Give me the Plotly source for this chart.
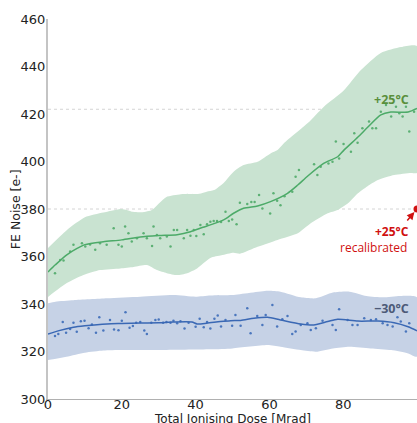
import plotly.graph_objects as go

# ---------------- data ----------------
# +25 C : smoothed mean and band
warm_mean_x = [0, 2, 5, 8, 10, 15, 20, 25, 30, 35, 38.6, 42, 44, 47.6, 50.3, 53, 56.8, 60.3,
               64.9, 67.7, 70.4, 74.7, 78.5, 80.2, 84, 86.7, 90.2, 92.9, 97.6, 100]
warm_mean_y = [353.5, 356.5, 360.6, 363.5, 365.0, 366.2, 367.0, 368.2, 368.8, 369.2, 370.4, 372.3,
               373.3, 375.4, 378.2, 380.3, 381.3, 383.1, 386.6, 390.1, 393.9, 399.2, 402.0, 404.8,
               410.3, 414.5, 419.6, 420.8, 420.8, 422.3]

warm_up_x = [0, 5, 10, 15, 20, 23, 25, 28, 32, 36, 41, 43, 45, 47.6, 50.3, 53, 56.8, 60.3, 62.2,
             64, 70.4, 74.7, 80.2, 84.8, 90.2, 95.7, 100]
warm_up_y = [363.6, 371.0, 376.5, 378.5, 380.0, 378.8, 378.6, 379.5, 385.0, 386.2, 386.4, 387.3,
             388.0, 391.0, 395.7, 398.5, 399.9, 403.4, 404.8, 407.8, 416.2, 423.0, 430.0, 438.5,
             445.7, 448.2, 448.6]

warm_lo_x = [0, 5.1, 9.6, 14.1, 19.6, 23.2, 26.8, 29.5, 32.2, 35, 37.7, 40.4, 44, 47, 50.3, 52,
             56.8, 62.2, 67.7, 71.2, 75.8, 78.5, 81.3, 84, 86.5, 89.4, 93.8, 98.4, 100]
warm_lo_y = [343.0, 348.8, 352.2, 354.3, 355.0, 355.6, 356.4, 354.3, 353.0, 352.2, 353.0, 355.0,
             359.4, 360.5, 361.6, 361.2, 364.1, 367.0, 369.8, 374.0, 378.2, 379.6, 382.4, 386.6,
             389.5, 392.2, 394.3, 395.2, 395.2]

warm_pts_x = [1.9, 3.3, 4.2, 6.0, 6.9, 9.2, 10.1, 11.4, 12.8, 14.1, 15.9, 17.8, 19.1, 20.0, 20.9,
              21.8, 22.7, 24.1, 25.9, 26.8, 28.2, 28.6, 29.5, 30.4, 32.2, 33.2, 34.1, 35.0, 36.8,
              37.7, 38.6, 39.5, 40.2, 41.3, 42.2, 43.1, 44.0, 44.9, 45.8, 46.9, 48.1, 49.0, 49.9,
              51.1, 52.0, 54.0, 55.1, 56.0, 57.2, 58.1, 60.2, 61.1, 62.1, 63.0, 64.1, 66.2, 67.1,
              68.0, 72.1, 73.0, 73.9, 76.0, 77.1, 78.0, 78.9, 80.1, 82.1, 83.0, 83.9, 85.2, 87.0,
              87.9, 88.9, 90.2, 91.6, 93.0, 94.3, 95.2, 96.1, 97.0, 97.9, 99.2]
warm_pts_y = [352.9, 358.5, 358.3, 362.1, 364.9, 365.6, 364.2, 365.1, 362.8, 365.6, 364.9, 371.9,
              364.9, 364.2, 372.6, 369.8, 366.3, 367.7, 369.8, 367.7, 364.4, 372.6, 369.1, 367.7,
              368.4, 364.2, 371.2, 371.2, 367.7, 371.2, 368.7, 371.2, 368.6, 373.3, 369.4, 373.6,
              374.6, 375.0, 374.9, 374.5, 378.8, 374.9, 375.6, 373.6, 382.6, 382.1, 383.0, 383.0,
              385.9, 380.2, 378.1, 386.6, 383.5, 381.6, 385.4, 387.3, 393.6, 396.4, 398.8, 394.3,
              397.8, 399.2, 399.9, 408.4, 401.3, 407.4, 404.1, 411.9, 407.9, 414.0, 416.8, 414.0,
              414.0, 421.0, 423.8, 418.9, 423.1, 420.3, 418.9, 423.1, 412.6, 421.0]

# -30 C : smoothed mean and band
cold_mean_x = [0, 3, 6.9, 10, 16, 20, 25, 30, 34, 39, 40.4, 43, 46.7, 49.5, 52.2, 55.8, 59.5, 63,
               68.5, 72, 75.8, 78.5, 84, 89.4, 93.8, 97.6, 100]
cold_mean_y = [327.3, 328.8, 330.2, 330.8, 331.6, 331.8, 332.0, 332.1, 332.4, 332.4, 331.6, 331.9,
               332.6, 333.0, 333.1, 334.0, 334.4, 333.3, 331.6, 331.2, 332.6, 333.6, 332.8, 332.8,
               332.1, 330.4, 328.7]

cold_up_x = [0, 2, 6.9, 16, 25, 34, 40, 44, 50, 59.5, 63, 68.5, 72.6, 77.2, 81.7, 86.3, 90.8,
             95.4, 100]
cold_up_y = [340.3, 341.0, 341.6, 342.4, 343.1, 343.8, 343.1, 343.6, 343.8, 345.6, 345.2, 342.8,
             342.4, 344.8, 345.2, 343.4, 342.8, 343.4, 342.8]

cold_lo_x = [0, 5, 10, 15, 20, 30, 44, 50, 59.5, 63, 68.5, 72.6, 77.2, 81.7, 87.4, 93, 97.6, 100]
cold_lo_y = [316.4, 317.8, 319.5, 320.4, 320.6, 320.6, 320.9, 321.3, 322.7, 322.0, 320.6, 319.9,
             321.3, 322.0, 321.3, 320.6, 319.2, 317.8]

cold_pts_x = [1.9, 2.8, 4.0, 4.9, 6.0, 6.9, 7.8, 8.9, 9.9, 11.0, 11.9, 13.0, 13.9, 15.0, 16.8,
              17.9, 19.1, 20.0, 21.0, 22.1, 23.0, 23.9, 25.0, 26.1, 26.8, 28.0, 29.1, 30.0, 31.2,
              32.1, 33.2, 34.0, 35.0, 35.9, 37.0, 38.1, 40.0, 41.1, 42.2, 43.1, 44.0, 45.1, 46.0,
              46.9, 48.1, 49.9, 50.8, 52.2, 54.0, 54.9, 56.7, 58.1, 59.0, 60.8, 62.1, 63.5, 64.9,
              66.2, 67.1, 68.5, 70.3, 71.2, 72.6, 74.4, 77.1, 78.0, 78.9, 81.2, 82.5, 83.9, 85.7,
              87.5, 88.9, 90.7, 92.0, 93.4, 94.7, 95.6, 97.0, 97.9]
cold_pts_y = [326.5, 327.4, 332.4, 327.9, 329.5, 332.1, 328.3, 332.7, 333.0, 329.8, 331.4, 327.9,
              334.4, 328.8, 333.3, 329.3, 329.0, 333.0, 336.5, 330.0, 330.7, 332.1, 332.4, 328.8,
              327.4, 332.1, 333.3, 333.5, 332.1, 332.4, 332.1, 333.0, 331.9, 332.7, 329.7, 332.1,
              330.4, 333.8, 330.2, 332.4, 329.7, 333.8, 335.2, 330.5, 333.3, 330.8, 335.4, 330.8,
              338.2, 327.7, 335.0, 331.2, 335.4, 339.6, 330.5, 333.6, 335.0, 327.4, 328.4, 331.2,
              331.9, 329.1, 329.8, 333.0, 331.2, 329.1, 337.8, 333.3, 331.2, 331.2, 334.0, 333.3,
              333.6, 331.9, 331.2, 330.5, 334.4, 332.6, 328.4, 331.9]

recal_x = [100]
recal_y = [380]
ref_levels = [422, 380]

x_ticks = [0, 20, 40, 60, 80]
y_ticks = [300, 320, 340, 360, 380, 400, 420, 440, 460]

# ---------------- style ----------------
GREEN_FILL = "rgba(201,227,209,1)"
GREEN_LINE = "#4caa68"
BLUE_FILL = "rgba(198,210,230,1)"
BLUE_LINE = "#3a68b4"
RED = "#d01010"
TICK_FONT = dict(family="DejaVu Sans", size=13, color="#222222")

fig = go.Figure()

# bands
fig.add_trace(go.Scatter(x=warm_up_x + warm_lo_x[::-1], y=warm_up_y + warm_lo_y[::-1],
                         fill="toself", fillcolor=GREEN_FILL, mode="lines",
                         line=dict(width=0, shape="spline", smoothing=0.6), hoverinfo="skip"))
fig.add_trace(go.Scatter(x=cold_up_x + cold_lo_x[::-1], y=cold_up_y + cold_lo_y[::-1],
                         fill="toself", fillcolor=BLUE_FILL, mode="lines",
                         line=dict(width=0, shape="spline", smoothing=0.6), hoverinfo="skip"))

# reference lines
for lv in ref_levels:
    fig.add_hline(y=lv, line=dict(color="#d4d4d4", width=1, dash="dot"), layer="below")

# scatter points
fig.add_trace(go.Scatter(x=warm_pts_x, y=warm_pts_y, mode="markers",
                         marker=dict(size=2.5, color="#5cb074")))
fig.add_trace(go.Scatter(x=cold_pts_x, y=cold_pts_y, mode="markers",
                         marker=dict(size=2.5, color="#4a76bd")))

# mean lines
fig.add_trace(go.Scatter(x=warm_mean_x, y=warm_mean_y, mode="lines",
                         line=dict(color=GREEN_LINE, width=1.5, shape="spline", smoothing=0.7)))
fig.add_trace(go.Scatter(x=cold_mean_x, y=cold_mean_y, mode="lines",
                         line=dict(color=BLUE_LINE, width=1.5, shape="spline", smoothing=0.7)))

# recalibrated point
fig.add_trace(go.Scatter(x=recal_x, y=recal_y, mode="markers", cliponaxis=False,
                         marker=dict(size=7, color=RED)))

# labels
fig.add_annotation(x=93.2, y=426.3, text="<b>+25°C</b>", showarrow=False,
                   font=dict(family="Open Sans", size=12.5, color="#5a8f3c"))
fig.add_annotation(x=93.0, y=338.3, text="<b>−30°C</b>", showarrow=False,
                   font=dict(family="Open Sans", size=12.5, color="#4d5a78"))
fig.add_annotation(x=93.1, y=370.6, text="<b>+25°C</b>", showarrow=False,
                   font=dict(family="Open Sans", size=12, color=RED))
fig.add_annotation(x=88.3, y=364.0, text="recalibrated", showarrow=False,
                   font=dict(family="Open Sans", size=12, color=RED))
fig.add_annotation(x=recal_x[0], y=recal_y[0], text="", showarrow=True, arrowhead=2,
                   arrowsize=1, arrowwidth=1.5, arrowcolor=RED, ax=-11, ay=13, standoff=4)

# axis titles (placed as paper-anchored text)
fig.add_annotation(xref="paper", yref="paper", x=0.5, y=-0.03, yanchor="top",
                   text="Total Ionising Dose [Mrad]", showarrow=False,
                   font=dict(family="DejaVu Sans", size=12, color="#222222"))
fig.add_annotation(xref="paper", yref="paper", x=-0.089, y=0.5, xanchor="center",
                   textangle=-90, text="FE Noise [e-]", showarrow=False,
                   font=dict(family="DejaVu Sans", size=12.5, color="#222222"))

fig.update_layout(
    width=417, height=423,
    margin=dict(l=48, r=0, t=19, b=24, autoexpand=False),
    paper_bgcolor="white", plot_bgcolor="white",
    showlegend=False,
    font=dict(family="DejaVu Sans", color="#222222"),
)
fig.update_xaxes(range=[0, 100], tickvals=x_ticks, showgrid=False, zeroline=False,
                 showline=True, linecolor="#b0b0b0", linewidth=1, ticks="",
                 tickfont=TICK_FONT, ticklabelstandoff=-7, automargin=False)
fig.update_yaxes(range=[300, 460], tickvals=y_ticks, showgrid=False, zeroline=False,
                 showline=True, linecolor="#c4c4c4", linewidth=2, ticks="",
                 tickfont=TICK_FONT, ticklabelstandoff=-2, automargin=False)

fig.write_html("out.html", config={"displayModeBar": False},
               post_script="document.body.style.margin='0';document.body.style.overflow='hidden';")
